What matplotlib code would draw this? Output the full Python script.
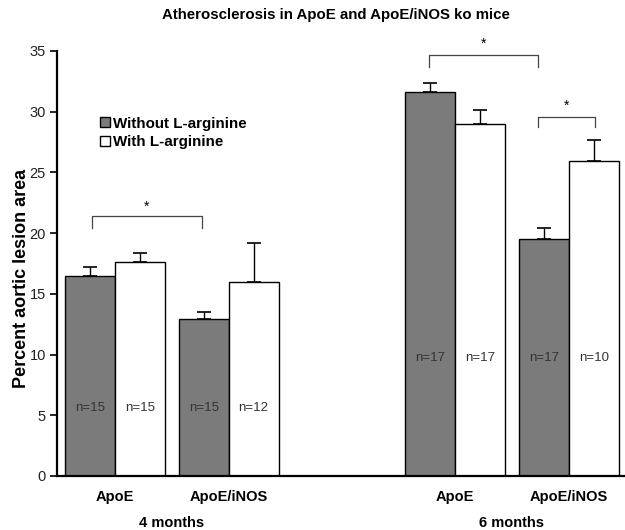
import matplotlib
matplotlib.use("Agg")
import matplotlib.pyplot as plt
import numpy as np

plt.rcParams['font.family'] = ['Liberation Sans', 'DejaVu Sans']

# Data
groups = ["4 months", "6 months"]
genotypes = ["ApoE", "ApoE/iNOS", "ApoE", "ApoE/iNOS"]
without_vals = [16.5, 12.9, 31.6, 19.5]
without_err = [0.7, 0.6, 0.8, 0.9]
with_vals = [17.6, 16.0, 29.0, 25.9]
with_err = [0.75, 3.2, 1.1, 1.75]
n_without = ["n=15", "n=15", "n=17", "n=17"]
n_with = ["n=15", "n=12", "n=17", "n=10"]
series_names = ["Without L-arginine", "With L-arginine"]
yticks = [0, 5, 10, 15, 20, 25, 30, 35]

# Layout (bar width = 1 unit)
pair_centers = np.array([1.16, 3.44, 7.98, 10.26])
dark_x = pair_centers - 0.5
white_x = pair_centers + 0.5

fig = plt.figure(figsize=(6.25, 5.3), dpi=100)
ax = fig.add_axes([0.0912, 0.1019, 0.9068, 0.8019])

dark = "#7b7b7b"
ax.bar(dark_x, without_vals, width=1.0, color=dark, edgecolor="black", linewidth=1.0, zorder=2,
       label=series_names[0])
ax.bar(white_x, with_vals, width=1.0, color="white", edgecolor="black", linewidth=1.0, zorder=2,
       label=series_names[1])
ax.errorbar(dark_x, without_vals, yerr=[np.zeros(4), without_err], fmt="none", ecolor="black",
            elinewidth=1.0, capsize=5, capthick=1.2, zorder=3)
ax.errorbar(white_x, with_vals, yerr=[np.zeros(4), with_err], fmt="none", ecolor="black",
            elinewidth=1.0, capsize=5, capthick=1.2, zorder=3)

# n labels
for i in range(4):
    ny = 5.6 if i < 2 else 9.7
    ax.text(dark_x[i], ny, n_without[i], ha="center", va="center", fontsize=9.5, color="#333333")
    ax.text(white_x[i], ny, n_with[i], ha="center", va="center", fontsize=9.5, color="#333333")

# significance brackets
def bracket(x1, x2, y, drop, star_y):
    ax.plot([x1, x1, x2, x2], [y - drop, y, y, y - drop], color="#444444", lw=0.9, clip_on=False)
    ax.text((x1 + x2) / 2, star_y, "*", ha="center", va="center", fontsize=10, clip_on=False)

bracket(dark_x[0] + 0.04, dark_x[1] - 0.04, 21.4, 1.0, 22.2)
bracket(dark_x[2] - 0.02, dark_x[3] - 0.12, 34.7, 1.0, 35.6)
bracket(dark_x[3] - 0.12, white_x[3] + 0.02, 29.6, 0.9, 30.5)

ax.set_xlim(0, 11.36)
ax.set_ylim(0, 35)
ax.set_yticks(yticks)
ax.set_yticklabels([str(t) for t in yticks], fontsize=10.5, color="#222222")
ax.set_xticks([])
for s in ["top", "right"]:
    ax.spines[s].set_visible(False)
ax.spines["left"].set_linewidth(1.6)
ax.spines["bottom"].set_linewidth(1.6)
ax.tick_params(axis="y", direction="out", length=5, width=1.2, pad=3)

ax.set_ylabel("Percent aortic lesion area", fontsize=13, fontweight="bold", va="center")
ax.yaxis.set_label_coords(-0.062, 0.465)

# x labels
for i in range(4):
    ax.text(pair_centers[i], -1.73, genotypes[i], ha="center", va="center", fontsize=10.5,
            fontweight="bold", clip_on=False)
ax.text((pair_centers[0] + pair_centers[1]) / 2, -3.87, groups[0], ha="center", va="center",
        fontsize=10.5, fontweight="bold", clip_on=False)
ax.text((pair_centers[2] + pair_centers[3]) / 2, -3.87, groups[1], ha="center", va="center",
        fontsize=10.5, fontweight="bold", clip_on=False)

fig.text(0.537, 0.972, "Atherosclerosis in ApoE and ApoE/iNOS ko mice", ha="center", va="center",
         fontsize=10.8, fontweight="bold")

leg = ax.legend(loc="upper left", bbox_to_anchor=(0.065, 0.86), frameon=False, fontsize=10.9,
                handlelength=0.66, handleheight=0.66, handletextpad=0.2, labelspacing=0.3,
                borderaxespad=0)
for t in leg.get_texts():
    t.set_fontweight("bold")

fig.savefig("out.png", dpi=100)
